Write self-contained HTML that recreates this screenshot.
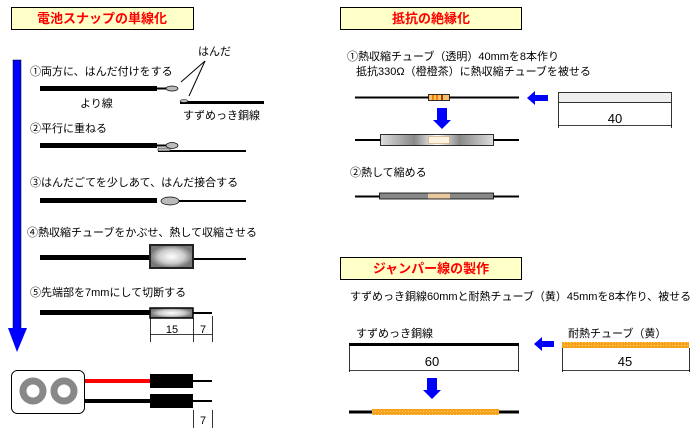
<!DOCTYPE html>
<html><head><meta charset="utf-8"><style>
html,body{margin:0;padding:0;background:#fff;width:696px;height:428px;overflow:hidden}
svg{display:block}
text{font-family:"Liberation Sans","Noto Sans CJK JP",sans-serif;font-size:11px;fill:#000}
.t{font-size:13px;font-weight:bold;fill:#f00}
</style></head><body>
<svg width="696" height="428" viewBox="0 0 696 428" xmlns="http://www.w3.org/2000/svg">
<defs>
<linearGradient id="tg" x1="0" x2="1" y1="0" y2="0">
<stop offset="0" stop-color="#ddd"/><stop offset="0.3" stop-color="#888"/><stop offset="0.5" stop-color="#fff"/><stop offset="0.7" stop-color="#888"/><stop offset="1" stop-color="#ddd"/></linearGradient>
<radialGradient id="rg"><stop offset="0" stop-color="#fff"/><stop offset="0.6" stop-color="#ccc"/><stop offset="1" stop-color="#777"/></radialGradient>
<pattern id="or" width="3" height="3" patternUnits="userSpaceOnUse"><rect width="3" height="3" fill="#f7a21b"/><rect width="1" height="1" fill="#ffd27a"/></pattern>
</defs>
<rect x="11.5" y="7.5" width="182" height="22" fill="#ffffc8" stroke="#000"/>
<text x="102" y="23" text-anchor="middle" class="t">電池スナップの単線化</text>
<rect x="340.5" y="7.5" width="181" height="22" fill="#ffffc8" stroke="#000"/>
<text x="431" y="23" text-anchor="middle" class="t">抵抗の絶縁化</text>
<rect x="340.5" y="257.5" width="181" height="22" fill="#ffffc8" stroke="#000"/>
<text x="431" y="273" text-anchor="middle" class="t">ジャンパー線の製作</text>
<rect x="13" y="60" width="8" height="270" fill="#0000ff" stroke="#000" stroke-width="0.5"/>
<polygon points="8,328 27,328 17,352" fill="#0000ff"/>
<text x="30" y="75">①両方に、はんだ付けをする</text>
<text x="198" y="55">はんだ</text>
<line x1="205" y1="61" x2="181" y2="82" stroke="#000"/>
<line x1="205" y1="61" x2="189" y2="96" stroke="#000"/>
<rect x="40" y="86" width="117" height="5" fill="#000"/>
<line x1="157" y1="88.5" x2="166" y2="88.5" stroke="#000" stroke-width="2"/>
<ellipse cx="172" cy="88.5" rx="6" ry="2.5" fill="#bbb" stroke="#000" stroke-width="0.7"/>
<text x="80" y="107">より線</text>
<line x1="180" y1="102.5" x2="264" y2="102.5" stroke="#000" stroke-width="3"/>
<ellipse cx="184" cy="101" rx="4" ry="1.5" fill="#bbb" stroke="#000" stroke-width="0.5"/>
<text x="183" y="119">すずめっき銅線</text>
<text x="30" y="132">②平行に重ねる</text>
<rect x="40" y="143" width="117" height="5" fill="#000"/>
<line x1="157" y1="145.5" x2="166" y2="145.5" stroke="#000" stroke-width="2"/>
<line x1="158" y1="151" x2="246" y2="151" stroke="#000" stroke-width="2"/>
<rect x="158" y="148" width="12" height="3" fill="#bbb" stroke="#000" stroke-width="0.5"/>
<ellipse cx="172" cy="145.5" rx="6" ry="3" fill="#bbb" stroke="#000" stroke-width="0.7"/>
<text x="30" y="186">③はんだごてを少しあて、はんだ接合する</text>
<rect x="40" y="198" width="117" height="5" fill="#000"/>
<line x1="165" y1="201" x2="246" y2="201" stroke="#000" stroke-width="2"/>
<ellipse cx="170" cy="201" rx="9" ry="4" fill="#bbb" stroke="#000" stroke-width="0.7"/>
<text x="27" y="236">④熱収縮チューブをかぶせ、熱して収縮させる</text>
<rect x="40" y="255" width="110" height="5" fill="#000"/>
<line x1="193" y1="259" x2="246" y2="259" stroke="#000" stroke-width="2"/>
<rect x="150" y="245" width="43" height="23" fill="url(#rg)" stroke="#222" stroke-width="2"/>
<text x="30" y="296">⑤先端部を7mmにして切断する</text>
<rect x="40" y="310" width="110" height="5" fill="#000"/>
<line x1="193" y1="313" x2="212" y2="313" stroke="#000" stroke-width="2"/>
<rect x="150" y="308" width="43" height="10" fill="url(#rg)" stroke="#000" stroke-width="1.5"/>
<g stroke="#000" stroke-width="0.8">
<line x1="150.5" y1="318" x2="150.5" y2="342"/><line x1="193.5" y1="318" x2="193.5" y2="342"/><line x1="212.5" y1="316" x2="212.5" y2="342"/>
<line x1="150" y1="334.5" x2="212" y2="334.5"/></g>
<text x="172" y="333" text-anchor="middle">15</text>
<text x="203" y="333" text-anchor="middle">7</text>
<rect x="11.5" y="370.5" width="73" height="43" rx="6" fill="#fff" stroke="#000"/>
<circle cx="33" cy="391" r="10" fill="#fff" stroke="#888" stroke-width="7"/>
<circle cx="64" cy="391" r="10" fill="#fff" stroke="#888" stroke-width="7"/>
<line x1="85" y1="381" x2="150" y2="381" stroke="#f00" stroke-width="4"/>
<rect x="150" y="374" width="43" height="14" fill="#000"/>
<line x1="193" y1="381" x2="212" y2="381" stroke="#000" stroke-width="2"/>
<line x1="85" y1="401" x2="150" y2="401" stroke="#000" stroke-width="4"/>
<rect x="150" y="394" width="43" height="14" fill="#000"/>
<line x1="193" y1="401" x2="212" y2="401" stroke="#000" stroke-width="2"/>
<line x1="193.5" y1="410" x2="193.5" y2="428" stroke="#000" stroke-width="0.8"/>
<line x1="212.5" y1="410" x2="212.5" y2="428" stroke="#000" stroke-width="0.8"/>
<text x="203" y="424" text-anchor="middle">7</text>
<text x="347" y="60">①熱収縮チューブ（透明）40mmを8本作り</text>
<text x="356" y="75">抵抗330Ω（橙橙茶）に熱収縮チューブを被せる</text>
<line x1="355" y1="97.5" x2="519" y2="97.5" stroke="#000" stroke-width="2"/>
<rect x="428.5" y="94.5" width="21" height="6" fill="#f7c06a" stroke="#000" stroke-width="0.8"/>
<rect x="432" y="95" width="2" height="5" fill="#f08000"/><rect x="436" y="95" width="2" height="5" fill="#f08000"/><rect x="441" y="95" width="2" height="5" fill="#a04010"/>
<polygon points="527,98 535,91 535,95 548,95 548,101 535,101 535,105" fill="#0000ff"/>
<rect x="558.5" y="92.5" width="113" height="10" fill="#eee" stroke="#000" stroke-width="0.8"/>
<g stroke="#000" stroke-width="0.8"><line x1="558.5" y1="103" x2="558.5" y2="128"/><line x1="671.5" y1="103" x2="671.5" y2="128"/><line x1="558" y1="125.5" x2="672" y2="125.5"/></g>
<text x="615" y="123" text-anchor="middle" style="font-size:13px">40</text>
<polygon points="437,108 447,108 447,120 451,120 442,129 433,120 437,120" fill="#0000ff"/>
<line x1="355" y1="140" x2="519" y2="140" stroke="#000" stroke-width="2"/>
<rect x="380.5" y="134.5" width="113" height="11" fill="url(#tg)" stroke="#000" stroke-width="0.8"/>
<rect x="428.5" y="136.5" width="21" height="7" fill="#fdf2e0" stroke="#c8a070" stroke-width="0.6"/>
<text x="350" y="176">②熱して縮める</text>
<line x1="355" y1="196.5" x2="519" y2="196.5" stroke="#000" stroke-width="2"/>
<rect x="379.5" y="193" width="114" height="6" fill="#888" stroke="#000" stroke-width="0.8"/>
<rect x="428" y="193.5" width="22" height="5" fill="#e8c8a0"/>
<text x="350" y="300">すずめっき銅線60mmと耐熱チューブ（黄）45mmを8本作り、被せる</text>
<text x="356" y="337">すずめっき銅線</text>
<line x1="349" y1="344.5" x2="519" y2="344.5" stroke="#000" stroke-width="3"/>
<g stroke="#000" stroke-width="0.8"><line x1="349.5" y1="346" x2="349.5" y2="372"/><line x1="518.5" y1="346" x2="518.5" y2="372"/><line x1="349" y1="370.5" x2="519" y2="370.5"/>
<line x1="562.5" y1="348" x2="562.5" y2="372"/><line x1="689.5" y1="348" x2="689.5" y2="372"/><line x1="562" y1="370.5" x2="690" y2="370.5"/></g>
<text x="432" y="366" text-anchor="middle" style="font-size:13px">60</text>
<text x="625" y="366" text-anchor="middle" style="font-size:13px">45</text>
<polygon points="534,344 542,337 542,341 554,341 554,347 542,347 542,351" fill="#0000ff"/>
<text x="568" y="337">耐熱チューブ（黄）</text>
<rect x="562" y="342" width="127" height="6" fill="url(#or)"/>
<polygon points="427,378 437,378 437,390 441,390 432,399 423,390 427,390" fill="#0000ff"/>
<line x1="349" y1="412" x2="519" y2="412" stroke="#000" stroke-width="3"/>
<rect x="372" y="409" width="127" height="6" fill="url(#or)"/>
</svg>
</body></html>
